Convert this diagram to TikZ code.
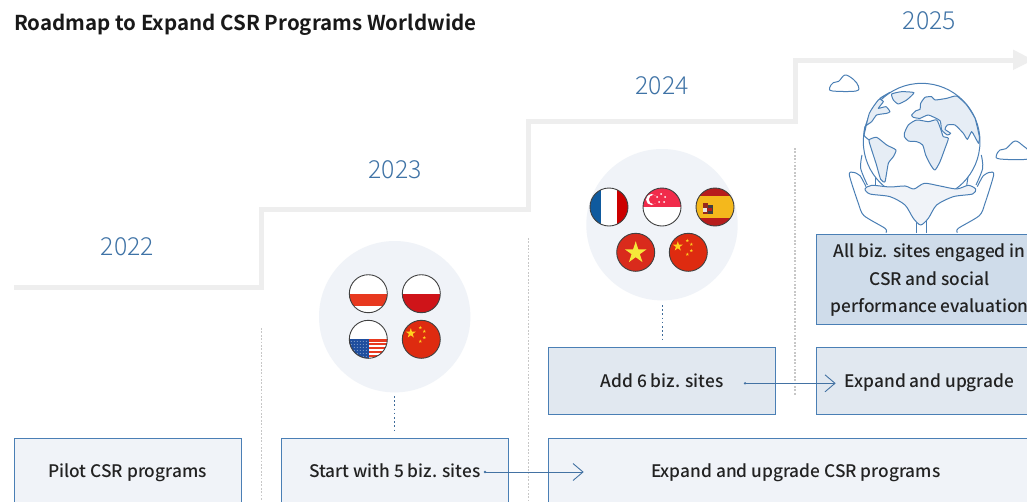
\documentclass[tikz,border=0pt]{standalone}
\usepackage{fontspec}
\setmainfont{Noto Sans CJK KR Medium}[BoldFont={Noto Sans CJK KR Bold}]
\newfontfamily\yearfont{Noto Sans CJK KR Light}
\usetikzlibrary{arrows.meta}
\definecolor{stair}{HTML}{EEEEEE}
\definecolor{ink}{HTML}{222222}
\definecolor{yearblue}{HTML}{3F73A6}
\definecolor{edge}{HTML}{4A7FB5}
\definecolor{paleA}{HTML}{F0F3F8}
\definecolor{paleB}{HTML}{E1E8F0}
\definecolor{paleC}{HTML}{CFDCEA}
\definecolor{landfill}{HTML}{E6EDF5}
\definecolor{cnred}{HTML}{DE2B10}
\definecolor{cnyel}{HTML}{FFD21E}
\definecolor{redA}{HTML}{E8391F}
\definecolor{redB}{HTML}{CF1419}
\definecolor{usblue}{HTML}{1F4E9E}
\definecolor{frblue}{HTML}{0F5A9E}
\definecolor{frred}{HTML}{CC0000}
\definecolor{sgred}{HTML}{F12B4B}
\definecolor{esred}{HTML}{B71C1C}
\definecolor{esyel}{HTML}{F4B81C}
\definecolor{esdark}{HTML}{96281E}
\definecolor{vnred}{HTML}{D92B1C}
\definecolor{vnyel}{HTML}{F5E93A}
\tikzset{
  boxbase/.style={draw=edge,line width=1pt,minimum width=227pt,inner sep=0pt,align=center,text=ink,font=\fontsize{17.3}{27.5}\selectfont},
  lightbox/.style={boxbase,fill=paleA,minimum height=67pt},
  midbox/.style={boxbase,fill=paleB,minimum height=67pt},
  year/.style={text=yearblue,inner sep=0pt,font=\yearfont\fontsize{24.8}{30}\selectfont},
  vsep/.style={draw=black!22,line width=1.7pt,dash pattern=on 1.7pt off 1.7pt},
  halo/.style={fill=paleA},
  leader/.style={draw=edge!85!black,line width=1.5pt,dash pattern=on 1.5pt off 2.7pt},
  flow/.style={draw=edge!90!black,line width=0.9pt},
  art/.style={draw=edge,line width=1pt,line join=round},
  ring/.style={draw=black!75,line width=0.9pt},
}
\newcommand\lift[1]{\raisebox{-6.3pt}[0pt][0pt]{#1}}
\newcommand\fstar[3]{\fill[#3,shift={(#1)}] (-90:#2) -- (-54:0.38*#2) -- (-18:#2) -- (18:0.38*#2) -- (54:#2) -- (90:0.38*#2) -- (126:#2) -- (162:0.38*#2) -- (198:#2) -- (234:0.38*#2) -- cycle;}
\newcommand\cnflag{\fill[cnred] (-20,-20) rectangle (20,20);
  \fstar{-10.5,-6}{5.2}{cnyel}\fstar{-1,-11.7}{1.8}{cnyel}\fstar{3,-8}{1.8}{cnyel}\fstar{3,-1.7}{1.8}{cnyel}\fstar{-1,2}{1.8}{cnyel}}
\newcommand\flag[2]{\begin{scope}[shift={(#1)}]\begin{scope}\clip (0,0) circle (19);\fill[white] (-20,-20) rectangle (20,20);#2\end{scope}\draw[ring] (0,0) circle (19);\end{scope}}
\begin{document}
\begin{tikzpicture}[x=1pt,y=-1pt]
\useasboundingbox (0,0) rectangle (1027,501);
\clip (0,0) rectangle (1027,501);
\fill[white] (0,0) rectangle (1027,501);
% separators
\draw[vsep] (261.5,328) -- (261.5,501);
\draw[vsep] (528.5,238) -- (528.5,501);
\draw[vsep] (795,148) -- (795,396);
% stairs
\draw[stair,line width=5pt] (14,287) -- (261,287) -- (261,209) -- (528,209) -- (528,121) -- (795.5,121) -- (795.5,60) -- (1016,60);
\fill[stair] (1013,49.5) -- (1033,60) -- (1013,70) -- cycle;
% title and years
\node[anchor=west,inner sep=0pt,text=black!90] (title) at (14,24.5) {\fontsize{20.5}{24}\selectfont\bfseries Roadmap to Expand CSR Programs Worldwide};
\node[year] (y22) at (127.5,246.5) {2022};
\node[year] (y23) at (395,169.5) {2023};
\node[year] (y24) at (662,85.5) {2024};
\node[year] (y25) at (929.5,21) {2025};
% halos
\fill[halo] (394.7,316.7) circle (75.7);
\fill[halo] (662,224.7) circle (75.7);
% flags
\flag{368.3,293.7}{\fill[redA] (-20,0) rectangle (20,12.3);}
\flag{421.3,293.7}{\fill[redB] (-20,0) rectangle (20,20);}
\flag{368.3,339.3}{\fill[redA] (-20,0) rectangle (20,20);
  \foreach \yy in {2.2,6,9.8,13.6,17.4} {\fill[white] (-20,\yy) rectangle (20,\yy+1.9);}
  \fill[usblue] (-20,0) rectangle (0.7,20);
  \foreach \xx in {-17,-14,...,0} {\foreach \yy in {2,5,...,18} {\fill[white!60!usblue] (\xx,\yy) circle (0.5);}}}
\flag{421.3,339.3}{\cnflag}
\flag{609,207}{\fill[frblue] (-20,-20) rectangle (-7.7,20);\fill[frred] (7.7,-20) rectangle (20,20);}
\flag{662,207}{\fill[sgred] (-20,-20) rectangle (20,0);
  \fill[white] (-10.5,-7.5) circle (5.5);\fill[sgred] (-8.5,-7.5) circle (4.6);
  \foreach \p in {{-5,-10},{-1,-13},{3,-10},{-3,-5},{2,-5}} {\fill[white] (\p) circle (1);}}
\flag{715,207}{\fill[esred] (-20,-20) rectangle (20,20);\fill[esyel] (-20,-11.3) rectangle (20,11);
  \fill[esdark] (-12,-4) rectangle (-7,7);\fill[black!75] (-7,-2) rectangle (-2,7);\fill[white!80!gray] (-12,1) rectangle (-8,5);\fill[esred] (-7,1) rectangle (-3.5,4);}
\flag{635.7,252.3}{\fill[vnred] (-20,-20) rectangle (20,20);\fstar{0,0.5}{11.5}{vnyel}}
\flag{688.3,252.3}{\cnflag}
% leaders
\draw[leader] (394.3,396) -- (394.3,431);
\draw[leader] (662.3,305) -- (662.3,340);
% boxes
\node[lightbox] (pilot) at (127.5,471.5) {\lift{Pilot CSR programs}};
\node[lightbox] (start) at (394.8,471.5) {\lift{Start with 5 biz. sites}};
\node[lightbox,minimum width=494.5pt] (wide) at (795.8,471.5) {\lift{Expand and upgrade CSR programs}};
\node[midbox] (add) at (662,381) {\lift{Add 6 biz. sites}};
\node[midbox] (exp) at (929.5,381) {\lift{Expand and upgrade}};
\node[boxbase,fill=paleC,minimum height=90pt] (all) at (929.5,279) {\lift{All biz. sites engaged in}\\\lift{CSR and social}\\\lift{performance evaluation}};
% connectors
\coordinate (c1a) at (485,472);
\coordinate (c1b) at (583,472);
\coordinate (c2a) at (745,383.3);
\coordinate (c2b) at (835,383.3);
\foreach \a/\b in {c1a/c1b,c2a/c2b} {
  \draw[flow] (\a) -- (\b);
  \fill[edge!90!black] (\a) circle (1.3);
  \draw[flow] ([shift={(-10,-8.5)}]\b) -- (\b) -- ([shift={(-10,8.5)}]\b);
}
% globe art
\begin{scope}[shift={(790,40)},x=0.3333pt,y=-0.3333pt]
  \draw[art] plot[smooth] coordinates {(216,345) (212,385) (232,435)};
  \draw[art] plot[smooth] coordinates {(574,345) (578,385) (558,435)};
  \draw[art] (255,405) -- (255,437);
  \draw[art] (535,405) -- (530,437);
  \draw[art,fill=white] (395,305) circle (175);
\end{scope}
\begin{scope}[shift={(860,80)},x=0.3333pt,y=-0.3333pt]
  \draw[art,fill=landfill] plot[smooth cycle,tension=0.4] coordinates {(133,160) (145,135) (170,120) (205,125) (230,120) (243,150) (250,170) (265,175) (255,205) (240,245) (225,270) (212,255) (197,225) (188,195) (170,185) (145,183) (133,170)};
  \draw[art,fill=landfill] plot[smooth cycle,tension=0.3] coordinates {(155,105) (168,92) (180,88) (182,70) (195,52) (215,50) (225,60) (260,55) (290,48) (320,75) (345,115) (358,170) (356,190) (347,175) (335,155) (322,178) (310,160) (285,135) (262,135) (255,148) (272,160) (262,165) (245,150) (240,122) (205,105) (180,115) (160,112)};
  \draw[art,fill=landfill] plot[smooth cycle,tension=0.3] coordinates {(95,42) (125,35) (162,38) (140,60) (115,72) (100,60)};
  \draw[art,fill=landfill] plot[smooth cycle,tension=0.3] coordinates {(12,165) (15,140) (35,125) (50,105) (80,100) (90,95) (78,80) (55,85) (70,65) (60,55) (90,37) (55,60) (28,100)};
  \draw[art,fill=landfill] plot[smooth cycle,tension=0.3] coordinates {(27,180) (50,172) (80,195) (108,210) (100,230) (85,250) (75,305) (62,298) (48,250) (35,210)};
  \draw[art] plot[smooth] coordinates {(12,165) (15,170) (27,180)};
\end{scope}
\begin{scope}[shift={(790,40)},x=0.3333pt,y=-0.3333pt]
  \draw[art,fill=white] plot[smooth,tension=0.45] coordinates {(288,578) (285,565) (222,527) (205,490) (178,405) (190,397) (210,407) (228,440)};
  \draw[art,fill=white] plot[smooth,tension=0.45] coordinates {(502,578) (505,565) (568,527) (585,490) (611,405) (600,397) (580,407) (562,440)};
  \draw[art] (378,578) -- (378,540);
  \draw[art] (410,578) -- (410,540);
  \draw[art,fill=paleA] plot[smooth cycle,tension=0.45] coordinates {(225,447) (245,436) (300,441) (345,438) (372,447) (403,430) (450,438) (500,447) (535,436) (557,447) (548,462) (490,470) (440,495) (415,535) (392,555) (370,535) (345,495) (300,470) (240,462)};
  \draw[art,fill=white] plot[smooth cycle,tension=0.6] coordinates {(128,153) (119,143) (130,128) (146,124) (165,105) (190,118) (205,138) (198,153)};
  \draw[art,fill=white] plot[smooth cycle,tension=0.6] coordinates {(630,357) (619,346) (630,330) (648,326) (675,303) (700,318) (718,335) (715,357)};
\end{scope}
\end{tikzpicture}
\end{document}
